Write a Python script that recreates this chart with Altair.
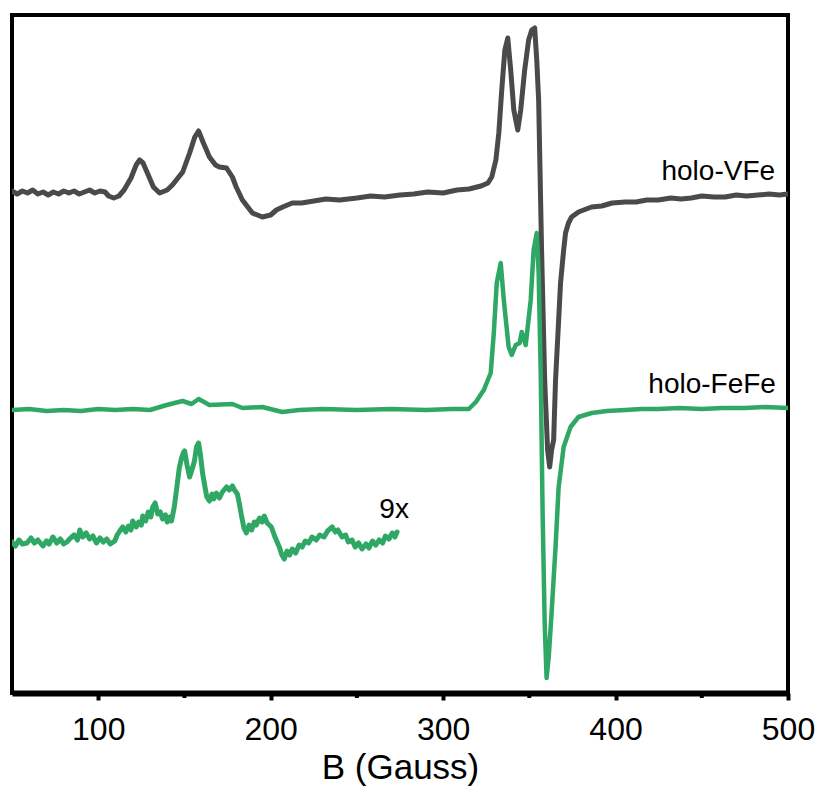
import altair as alt
import pandas as pd

# holo-VFe (dark grey trace) : field B (Gauss), intensity (arb. units)
vfe_B = [50, 53, 56, 59, 62, 65, 68, 71, 74, 77, 80, 83, 86, 89, 92, 95, 98, 101, 104, 106, 109,
         112, 115, 119, 122, 124, 126, 129, 132, 135.6, 140, 143, 149, 153, 156, 158.2, 161,
         164.5, 168, 170.3, 174.4, 177.8, 180, 183.6, 189.4, 195.2, 200, 203.3, 207, 212.5, 218,
         225, 232, 240, 250, 258, 266, 275, 283, 291, 300, 308, 315, 322, 326, 328.2, 330.6,
         332.3, 334, 335.8, 337.5, 339.2, 341, 343.3, 345, 347.3, 349.6, 351.4, 353.1, 354.3,
         355.4, 357.1, 358.9, 360.6, 361.8, 362.9, 364.1, 365.2, 367, 368.1, 369.9, 371, 372.7,
         374.5, 378.5, 383, 386.1, 392, 398, 405.7, 412, 418, 424.8, 432, 438, 443.9, 450, 457,
         463.6, 470, 476, 482.6, 489, 495, 500]
vfe_I = [502, 499, 502, 500, 503, 499, 501, 498, 501, 499, 502, 500, 502, 499, 501, 503, 500, 502,
         501, 497, 495, 497, 503, 515, 528, 533, 530, 518, 506, 500, 503, 508, 521, 540, 556, 562,
         550, 536, 528, 526, 525, 516, 506, 493, 480, 476, 478, 483, 486, 490, 490,
         492, 494, 493, 495, 497, 496, 498, 499, 501, 500, 503, 504, 507, 510, 516, 533,
         560, 603, 643, 655, 623, 583, 563, 583, 623, 653, 663, 665, 633,
         593, 443, 313, 243, 226, 243, 253, 313, 373, 410, 443, 460, 470,
         476, 481, 484, 486, 487, 490, 491, 491, 493, 493, 495, 494, 495, 497, 496,
         496, 498, 497, 498, 499, 498, 499]

# holo-FeFe (green trace)
fefe_B = [50, 60, 70, 80, 90, 100, 110, 120, 130, 139.7, 148.9, 154.1, 158.2, 164.5, 177.8,
          183.6, 195.2, 206.7, 216.6, 230, 250, 270, 290, 305, 314.9, 319, 323.6, 327.6, 329.4,
          331.1, 333.4, 335.2, 338, 339.8, 342.1, 344.4, 345.6, 347.9, 350.8, 352.5, 354.3,
          355.4, 356.6, 357.7, 358.9, 360, 361.2, 362.9, 365.2, 367, 369.9, 373.9, 378.5, 386.1,
          395, 405.7, 415, 424.8, 437, 450, 462, 475, 487, 500]
fefe_I = [283, 284, 282, 283, 282, 284, 283, 284, 283, 288, 292, 289, 294, 288, 289,
          285, 286, 281, 283, 284, 283, 284, 283, 284, 284, 291, 303, 320, 360,
          410, 430, 393, 346, 338, 348, 350, 361, 348, 393, 443, 460,
          420, 320, 180, 70, 15, 35, 80, 146, 206, 246, 266, 276, 280,
          282, 283, 284, 284, 285, 284, 285, 285, 286, 285]

# holo-FeFe low-field region, 9x
x9_B = [50, 52, 54, 56, 58.7, 61, 63, 65, 67.9, 70, 71.5, 73.7, 76, 78, 80, 81.8, 84, 86, 88,
        89.3, 91, 93, 95, 96.9, 99, 101, 103, 104.9, 107, 109.6, 111, 112.5, 114.2, 116, 117.5,
        119, 120, 122, 123.5, 125, 125.8, 127.5, 129, 130.5, 131.6, 133, 134.5, 136, 137.3, 139,
        140, 141.5, 142.5, 144, 145.4, 147, 148.3, 149.3, 150.1, 151.5, 153, 154.5, 155.8, 157,
        158.2, 159.3, 160.5, 162, 163, 164.5, 166, 167, 168.5, 170.3, 172, 174.4, 176, 177.8,
        179, 180.7, 182, 183, 184.5, 185.9, 187.5, 189, 190.5, 191.7, 193.5, 195, 196.3, 198,
        200.4, 202.5, 205, 206.5, 207.9, 209.5, 211, 212.5, 214.5, 216.5, 218.3, 220, 222, 224,
        226.4, 228.5, 231, 233, 235.7, 237.5, 239, 241.4, 243.5, 245, 247.2, 249, 251, 253,
        255.3, 257, 259, 261, 262.9, 265, 266.5, 268.6, 270.5, 272, 273.3]
x9_I = [151, 147, 153, 149, 150, 155, 150, 153, 147, 152, 149, 156, 150, 154, 149, 151, 155, 158,
        153, 163, 156, 160, 154, 157, 150, 155, 151, 154, 149, 152, 158, 162, 166, 161, 167,
        163, 172, 166, 171, 168, 177, 172, 181, 176, 186, 190, 179, 181, 174, 178,
        171, 176, 172, 185, 203, 225, 235, 240, 242, 228, 216, 224, 232, 246,
        250, 238, 220, 205, 196, 192, 199, 194, 200, 195, 201, 206, 203, 207,
        203, 199, 188, 178, 165, 160, 168, 163, 171, 168, 175, 171, 177, 170,
        166, 156, 146, 138, 134, 142, 138, 144, 140, 148, 146, 152, 150, 156,
        153, 158, 156, 162, 166, 161, 163, 156, 158, 151, 153, 146, 150, 144,
        149, 145, 152, 148, 153, 150, 157, 154, 160, 156, 161]

labels_text = ["holo-VFe", "holo-FeFe", "9x"]
labels_B = [492.5, 493, 263]
labels_I = [513, 300, 175]
labels_align = ["right", "right", "left"]

major_ticks = [100, 200, 300, 400, 500]
minor_ticks = [150, 250, 350, 450]

GREY = "#4a4a4a"
GREEN = "#30a865"
FONT = "Liberation Sans"
W, H = 776, 678

xscale = alt.Scale(domain=[50, 500], nice=False, zero=False)
yscale = alt.Scale(domain=[0, 678], nice=False, zero=False)

df_vfe = pd.DataFrame({"B": vfe_B, "I": vfe_I, "o": range(len(vfe_B))})
df_fefe = pd.DataFrame({"B": fefe_B, "I": fefe_I, "o": range(len(fefe_B))})
df_x9 = pd.DataFrame({"B": x9_B, "I": x9_I, "o": range(len(x9_B))})
df_lab = pd.DataFrame({"t": labels_text, "B": labels_B, "I": labels_I, "a": labels_align})
df_minor = pd.DataFrame({"B": minor_ticks})

xenc = alt.X("B:Q", scale=xscale, title="B (Gauss)",
             axis=alt.Axis(values=major_ticks, grid=False, tickSize=7, tickWidth=4,
                           tickColor="black", domainColor="black", domainWidth=6,
                           labelFontSize=32, labelFont=FONT, labelColor="black",
                           labelPadding=14, titleFontSize=35, titleFont=FONT,
                           titleFontWeight="normal", titleColor="black", titlePadding=5,
                           labelFlush=False))
yenc = alt.Y("I:Q", scale=yscale, axis=None)

def line(df, color, width):
    return alt.Chart(df).mark_line(color=color, strokeWidth=width, strokeJoin="round",
                                   strokeCap="round", clip=True).encode(
        x=xenc, y=yenc, order="o:Q")

grey = line(df_vfe, GREY, 5)
green = line(df_fefe, GREEN, 4.5)
x9 = line(df_x9, GREEN, 5)

text_r = alt.Chart(df_lab[df_lab.a == "right"]).mark_text(
    align="right", baseline="alphabetic", fontSize=28, font=FONT, color="black").encode(
    x=alt.X("B:Q", scale=xscale), y=alt.Y("I:Q", scale=yscale), text="t:N")
text_l = alt.Chart(df_lab[df_lab.a == "left"]).mark_text(
    align="left", baseline="alphabetic", fontSize=28, font=FONT, color="black").encode(
    x=alt.X("B:Q", scale=xscale), y=alt.Y("I:Q", scale=yscale), text="t:N")

minor = alt.Chart(df_minor).mark_rule(color="black", strokeWidth=4, clip=False).encode(
    x=alt.X("B:Q", scale=xscale), y=alt.value(H), y2=alt.value(H + 5))

chart = alt.layer(grey, green, x9, text_r, text_l, minor).properties(
    width=W, height=H,
    autosize=alt.AutoSizeParams(type="none"),
    padding={"left": 4, "top": 7, "right": 28, "bottom": 94},
    background="white",
).configure_view(stroke="black", strokeWidth=4)

chart.save("out.html", embed_options={"renderer": "svg", "actions": False})
